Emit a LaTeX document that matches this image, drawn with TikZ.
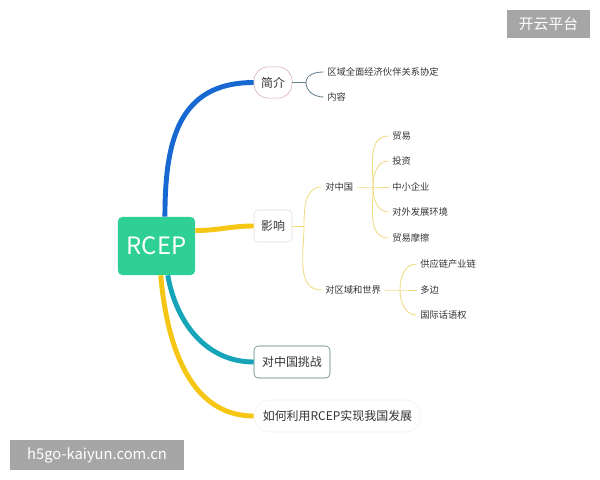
\documentclass[tikz,border=0pt]{standalone}
\usepackage{fontspec}
\setmainfont{Noto Sans CJK SC}
\usetikzlibrary{positioning, calc}
\definecolor{rcepgreen}{RGB}{46,208,150}
\definecolor{introblue}{RGB}{24,104,210}
\definecolor{mainyellow}{RGB}{246,198,20}
\definecolor{challteal}{RGB}{22,164,184}
\definecolor{leafyellow}{RGB}{240,218,130}
\definecolor{leafslate}{RGB}{100,130,145}
\definecolor{textgrey}{RGB}{51,51,51}
\definecolor{markgrey}{RGB}{166,166,166}

\begin{document}
\begin{tikzpicture}[
    x=0.025cm, y=-0.025cm,
    box/.style={draw, rounded corners=3pt, fill=white, minimum height=0.8cm, inner sep=2pt, align=center, text=textgrey, font=\fontsize{8.5}{10}\selectfont},
    leaf/.style={anchor=west, inner sep=2.5pt, text=textgrey, font=\fontsize{6.6}{8}\selectfont},
    bigline/.style={line width=3.5pt},
    twig/.style={line width=0.6pt},
    watermark/.style={fill=markgrey, text=white, inner sep=0pt, font=\fontsize{10.5}{12}\selectfont}
]
    \useasboundingbox (0,0) rectangle (600,480);

    % main topics
    \node[fill=rcepgreen, rounded corners=3pt, minimum width=1.925cm, minimum height=1.45cm, text=white, font=\fontsize{17}{20}\selectfont] (rcep) at (156.5,246) {RCEP};
    \node[box, draw=pink!70!gray, rounded corners=0.35cm, minimum width=0.95cm, minimum height=0.78cm] (intro) at (273,82.5) {简介};
    \node[box, draw=gray!25, minimum width=0.95cm] (impact) at (273,226) {影响};
    \node[box, draw=gray!60!teal, minimum width=1.9cm] (chall) at (292,362) {对中国挑战};
    \node[box, draw=gray!12, rounded corners=0.4cm, minimum width=4.175cm] (howto) at (337.5,416) {如何利用RCEP实现我国发展};

    \draw[bigline, introblue] ([xshift=6pt]rcep.north) to[out=90, in=180, looseness=1.2] (intro.west);
    \draw[bigline, mainyellow] ([yshift=11pt]rcep.east) to[out=0, in=180] (impact.west);
    \draw[bigline, challteal] ([xshift=8pt]rcep.south) to[out=-80, in=180] (chall.west);
    \draw[bigline, mainyellow] ([xshift=3pt]rcep.south) to[out=-85, in=180] (howto.west);

    % 简介
    \node[leaf] (rcepname) at (323.5,72) {区域全面经济伙伴关系协定};
    \node[leaf] (content) at (323.5,97) {内容};
    \coordinate (introfork) at (306,82.5);
    \draw[twig, leafslate] (intro.east) -- (introfork);
    \draw[twig, leafslate] (introfork) to[out=90, in=180] (rcepname.west);
    \draw[twig, leafslate] (introfork) to[out=-90, in=180] (content.west);

    % 影响
    \node[leaf] (china) at (321.5,187) {对中国};
    \node[leaf] (world) at (321.5,290) {对区域和世界};
    \coordinate (impactfork) at (304,226);
    \draw[twig, leafyellow] (impact.east) -- (impactfork);
    \draw[twig, leafyellow] (impactfork) to[out=90, in=180] (china.west);
    \draw[twig, leafyellow] (impactfork) to[out=-90, in=180] (world.west);

    \node[leaf] (trade) at (388.5,136) {贸易};
    \node[leaf] (invest) at (388.5,161) {投资};
    \node[leaf] (sme) at (388.5,187) {中小企业};
    \node[leaf] (outward) at (388.5,212) {对外发展环境};
    \node[leaf] (friction) at (388.5,238) {贸易摩擦};
    \coordinate (chinafork) at (373,187);
    \draw[twig, leafyellow] (china.east) -- (chinafork) -- (sme.west);
    \foreach \n in {trade, invest}
        \draw[twig, leafyellow] (chinafork) to[out=90, in=180] (\n.west);
    \foreach \n in {outward, friction}
        \draw[twig, leafyellow] (chinafork) to[out=-90, in=180] (\n.west);

    \node[leaf] (chain) at (416.5,264) {供应链产业链};
    \node[leaf] (multi) at (416.5,290) {多边};
    \node[leaf] (voice) at (416.5,315) {国际话语权};
    \coordinate (worldfork) at (400,290);
    \draw[twig, leafyellow] (world.east) -- (worldfork) -- (multi.west);
    \draw[twig, leafyellow] (worldfork) to[out=90, in=180] (chain.west);
    \draw[twig, leafyellow] (worldfork) to[out=-90, in=180] (voice.west);

    % watermarks
    \node[watermark, minimum width=2.075cm, minimum height=0.7cm] (topmark) at (548.5,24) {开云平台};
    \node[watermark, minimum width=4.35cm, minimum height=0.75cm] (sitemark) at (97,455) {h5go-kaiyun.com.cn};
\end{tikzpicture}
\end{document}
